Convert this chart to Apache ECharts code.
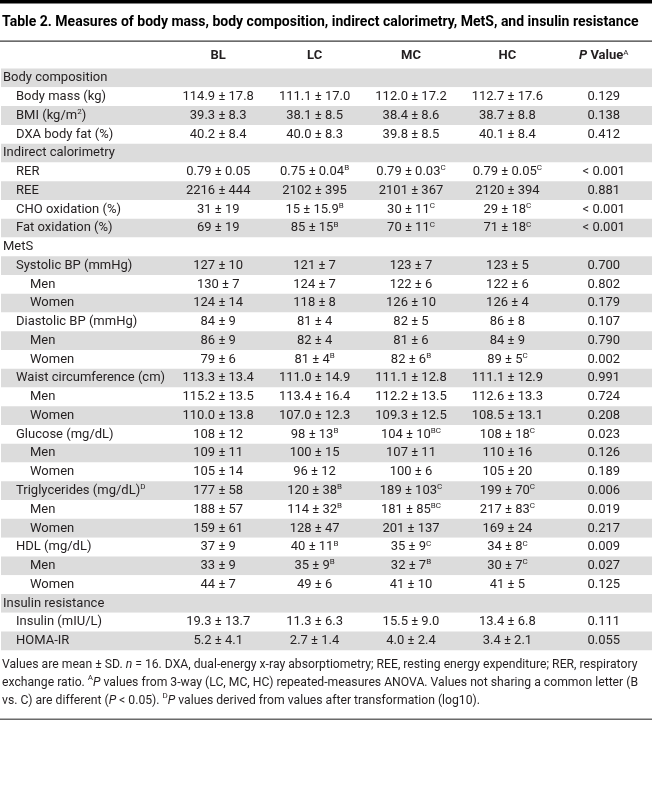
<!DOCTYPE html>
<html>
<head>
<meta charset="utf-8">
<script src="https://cdn.jsdelivr.net/npm/echarts@6/dist/echarts.min.js"></script>
<style>
html,body{margin:0;padding:0;background:#fff;}
#chart{width:652px;height:802px;}
</style>
</head>
<body>
<div id="chart"></div>
<script>
// ---------- data ----------
const tableTitle = 'Table 2. Measures of body mass, body composition, indirect calorimetry, MetS, and insulin resistance';
const columnHeaders = ['BL', 'LC', 'MC', 'HC', 'P Value^A'];
const rowLabels = [
  'Body composition', 'Body mass (kg)', 'BMI (kg/m^2^)', 'DXA body fat (%)',
  'Indirect calorimetry', 'RER', 'REE', 'CHO oxidation (%)', 'Fat oxidation (%)',
  'MetS', 'Systolic BP (mmHg)', 'Men', 'Women', 'Diastolic BP (mmHg)', 'Men', 'Women',
  'Waist circumference (cm)', 'Men', 'Women', 'Glucose (mg/dL)', 'Men', 'Women',
  'Triglycerides (mg/dL)^D', 'Men', 'Women', 'HDL (mg/dL)', 'Men', 'Women',
  'Insulin resistance', 'Insulin (mIU/L)', 'HOMA-IR'
];
const rowLevels = [0,1,1,1, 0,1,1,1,1, 0,1,2,2,1,2,2, 1,2,2,1,2,2, 1,2,2,1,2,2, 0,1,1];
const valuesBL = ['', '114.9 ± 17.8', '39.3 ± 8.3', '40.2 ± 8.4',
  '', '0.79 ± 0.05', '2216 ± 444', '31 ± 19', '69 ± 19',
  '', '127 ± 10', '130 ± 7', '124 ± 14', '84 ± 9', '86 ± 9', '79 ± 6',
  '113.3 ± 13.4', '115.2 ± 13.5', '110.0 ± 13.8', '108 ± 12', '109 ± 11', '105 ± 14',
  '177 ± 58', '188 ± 57', '159 ± 61', '37 ± 9', '33 ± 9', '44 ± 7',
  '', '19.3 ± 13.7', '5.2 ± 4.1'];
const valuesLC = ['', '111.1 ± 17.0', '38.1 ± 8.5', '40.0 ± 8.3',
  '', '0.75 ± 0.04^B', '2102 ± 395', '15 ± 15.9^B', '85 ± 15^B',
  '', '121 ± 7', '124 ± 7', '118 ± 8', '81 ± 4', '82 ± 4', '81 ± 4^B',
  '111.0 ± 14.9', '113.4 ± 16.4', '107.0 ± 12.3', '98 ± 13^B', '100 ± 15', '96 ± 12',
  '120 ± 38^B', '114 ± 32^B', '128 ± 47', '40 ± 11^B', '35 ± 9^B', '49 ± 6',
  '', '11.3 ± 6.3', '2.7 ± 1.4'];
const valuesMC = ['', '112.0 ± 17.2', '38.4 ± 8.6', '39.8 ± 8.5',
  '', '0.79 ± 0.03^C', '2101 ± 367', '30 ± 11^C', '70 ± 11^C',
  '', '123 ± 7', '122 ± 6', '126 ± 10', '82 ± 5', '81 ± 6', '82 ± 6^B',
  '111.1 ± 12.8', '112.2 ± 13.5', '109.3 ± 12.5', '104 ± 10^BC', '107 ± 11', '100 ± 6',
  '189 ± 103^C', '181 ± 85^BC', '201 ± 137', '35 ± 9^C', '32 ± 7^B', '41 ± 10',
  '', '15.5 ± 9.0', '4.0 ± 2.4'];
const valuesHC = ['', '112.7 ± 17.6', '38.7 ± 8.8', '40.1 ± 8.4',
  '', '0.79 ± 0.05^C', '2120 ± 394', '29 ± 18^C', '71 ± 18^C',
  '', '123 ± 5', '122 ± 6', '126 ± 4', '86 ± 8', '84 ± 9', '89 ± 5^C',
  '111.1 ± 12.9', '112.6 ± 13.3', '108.5 ± 13.1', '108 ± 18^C', '110 ± 16', '105 ± 20',
  '199 ± 70^C', '217 ± 83^C', '169 ± 24', '34 ± 8^C', '30 ± 7^C', '41 ± 5',
  '', '13.4 ± 6.8', '3.4 ± 2.1'];
const valuesP = ['', '0.129', '0.138', '0.412',
  '', '< 0.001', '0.881', '< 0.001', '< 0.001',
  '', '0.700', '0.802', '0.179', '0.107', '0.790', '0.002',
  '0.991', '0.724', '0.208', '0.023', '0.126', '0.189',
  '0.006', '0.019', '0.217', '0.009', '0.027', '0.125',
  '', '0.111', '0.055'];
const footnote = 'Values are mean ± SD. {i|n} = 16. DXA, dual-energy x-ray absorptiometry; REE, resting energy expenditure; RER, respiratory\n' +
  'exchange ratio. {s|A}{i|P} values from 3-way (LC, MC, HC) repeated-measures ANOVA. Values not sharing a common letter (B\n' +
  'vs. C) are different ({i|P} < 0.05). {s|D}{i|P} values derived from values after transformation (log10).';

// ---------- build ----------
const FONT = 'Roboto';
const TXT = '#231f20';
const columns = [valuesBL, valuesLC, valuesMC, valuesHC, valuesP];
const rowIdx = rowLabels.map((_, i) => String(i));

function toRich(str, firstStyle) {
  // 'abc^X^def' -> {first|abc}{s|X}{n|def}
  const parts = str.split('^');
  let out = '';
  parts.forEach((p, k) => {
    if (p === '') return;
    if (k % 2 === 1) out += '{s|' + p + '}';
    else out += '{' + (k === 0 ? firstStyle : 'n') + '|' + p + '}';
  });
  return out;
}

const supStyle = { fontSize: 8, lineHeight: 9, verticalAlign: 'top', fontFamily: FONT, color: TXT, fill: TXT };
const cells = [];
columns.forEach((col, c) => {
  col.forEach((v, r) => { if (v !== '') cells.push({ c: c, r: r, t: toRich(v, 'n') }); });
});

const chart = echarts.init(document.getElementById('chart'), null, { renderer: 'canvas' });
const gridTop = 68.6, gridHeight = 581.6;

const option = {
  animation: false,
  backgroundColor: '#fff',
  title: [
    {
      text: tableTitle, left: 2, top: 15, padding: 0,
      textStyle: { fontFamily: FONT, fontWeight: 'bold', fontSize: 14, color: '#000' }
    },
    {
      text: footnote, left: 2, top: 656, padding: 0,
      textStyle: {
        fontFamily: FONT, fontWeight: 'normal', fontSize: 12.2, color: TXT, lineHeight: 18,
        rich: {
          i: { fontFamily: FONT, fontSize: 12.2, fontStyle: 'italic', color: TXT, lineHeight: 18 },
          s: { fontFamily: FONT, fontSize: 8, color: TXT, lineHeight: 10, verticalAlign: 'top' }
        }
      }
    }
  ],
  graphic: [
    { type: 'rect', shape: { x: 0, y: 0, width: 652, height: 3.5 }, style: { fill: '#000' } },
    { type: 'rect', shape: { x: 0, y: 40.5, width: 652, height: 1.2 }, style: { fill: '#3a3a3a' } },
    { type: 'rect', shape: { x: 0, y: 718.5, width: 652, height: 1.6 }, style: { fill: '#6a6a6a' } }
  ],
  grid: [
    { left: 0, right: 0, top: gridTop, height: gridHeight },
    { left: 170, right: 0, top: gridTop, height: gridHeight }
  ],
  xAxis: [
    { gridIndex: 0, type: 'value', min: 0, max: 1, show: false },
    {
      gridIndex: 1, type: 'category', position: 'top', data: columnHeaders,
      axisLine: { show: false }, axisTick: { show: false }, splitLine: { show: false },
      axisLabel: {
        interval: 0, margin: 5,
        formatter: function (v) {
          if (v.indexOf('P Value') === 0) return '{bi|P}{b| Value}{s|A}';
          return '{b|' + v + '}';
        },
        rich: {
          b: { fontFamily: FONT, fontWeight: 'bold', fontSize: 13, color: TXT, lineHeight: 15 },
          bi: { fontFamily: FONT, fontWeight: 'bold', fontStyle: 'italic', fontSize: 13, color: TXT, lineHeight: 15 },
          s: supStyle
        }
      }
    }
  ],
  yAxis: [
    {
      gridIndex: 0, type: 'category', data: rowIdx, inverse: true,
      axisLine: { show: false }, axisTick: { show: false }, splitLine: { show: false },
      splitArea: { show: true, interval: 0, areaStyle: { color: ['#dcdcdc', '#ffffff'] } },
      axisLabel: {
        inside: true, interval: 0, margin: 2,
        formatter: function (v) {
          const i = Number(v);
          return toRich(rowLabels[i], 'l' + rowLevels[i]);
        },
        rich: {
          l0: { fontFamily: FONT, fontSize: 13, color: TXT, lineHeight: 15 },
          l1: { fontFamily: FONT, fontSize: 13, color: TXT, lineHeight: 15, padding: [0, 0, 0, 13] },
          l2: { fontFamily: FONT, fontSize: 13, color: TXT, lineHeight: 15, padding: [0, 0, 0, 27] },
          n: { fontFamily: FONT, fontSize: 13, color: TXT, lineHeight: 15 },
          s: supStyle
        }
      }
    },
    {
      gridIndex: 1, type: 'category', data: rowIdx, inverse: true, show: false
    }
  ],
  series: [
    {
      type: 'custom', xAxisIndex: 1, yAxisIndex: 1, silent: true,
      data: cells.map(cl => [cl.c, cl.r]),
      renderItem: function (params, api) {
        const cl = cells[params.dataIndex];
        const p = api.coord([cl.c, cl.r]);
        return {
          type: 'text', x: p[0], y: p[1],
          style: {
            text: cl.t, align: 'center', verticalAlign: 'middle',
            fontFamily: FONT, fontSize: 13, fill: TXT,
            rich: {
              n: { fontFamily: FONT, fontSize: 13, fill: TXT, color: TXT, lineHeight: 15 },
              s: supStyle
            }
          }
        };
      }
    }
  ]
};
chart.setOption(option);
</script>
</body>
</html>
